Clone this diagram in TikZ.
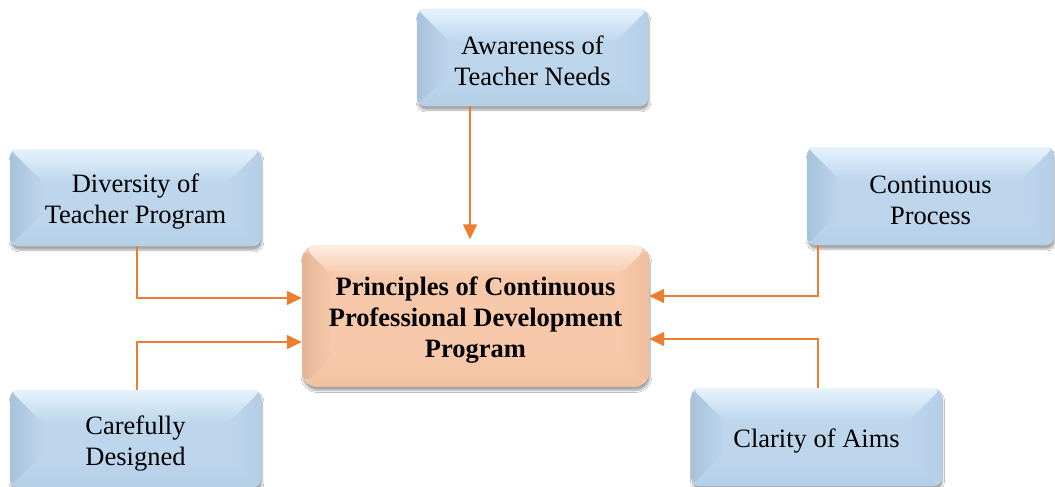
\documentclass[tikz,border=0pt]{standalone}
\usepackage{fontspec}
\setmainfont{Liberation Serif}
\usetikzlibrary{arrows.meta,calc,shadows.blur}
\definecolor{arrc}{HTML}{ED7D31}
\definecolor{bmain}{HTML}{BDD6EC}
\definecolor{bleft}{HTML}{A8C2DB}
\definecolor{bright}{HTML}{B4CEE6}
\definecolor{btop}{HTML}{E6F3FD}
\definecolor{bbot}{HTML}{B5CFE7}
\definecolor{omain}{HTML}{F7C9AA}
\definecolor{oleft}{HTML}{E4B496}
\definecolor{oright}{HTML}{F0BE9E}
\definecolor{otop}{HTML}{FDEDE0}
\definecolor{obot}{HTML}{F1C1A1}
\newcommand\tstrut[1]{\rule{0pt}{#1}}
\newcommand\bevelfaces[6]{%
  \path (path picture bounding box.north west) coordinate (bnw)
        (path picture bounding box.south east) coordinate (bse)
        (path picture bounding box.north east) coordinate (bne)
        (path picture bounding box.south west) coordinate (bsw);
  \shade[left color=#3, right color=#2] (bnw) -- ($(bnw)+(#1pt,-#1pt)$) -- ($(bsw)+(#1pt,#1pt)$) -- (bsw) -- cycle;
  \shade[right color=#4, left color=#2] (bne) -- ($(bne)+(-#1pt,-#1pt)$) -- ($(bse)+(-#1pt,#1pt)$) -- (bse) -- cycle;
  \shade[top color=#5, bottom color=#2] (bnw) -- (bne) -- ($(bne)+(-#1pt,-#1pt)$) -- ($(bnw)+(#1pt,-#1pt)$) -- cycle;
  \shade[bottom color=#6, top color=#2] (bsw) -- (bse) -- ($(bse)+(-#1pt,#1pt)$) -- ($(bsw)+(#1pt,#1pt)$) -- cycle;
}
\tikzset{
  bluebox/.style={rounded corners=8pt, inner sep=0pt, align=center, fill=bmain,
    blur shadow={shadow xshift=1pt, shadow yshift=-4pt, shadow blur steps=6, shadow opacity=35},
    path picture={\bevelfaces{33}{bmain}{bleft}{bright}{btop}{bbot}},
    font=\fontsize{26.5}{31}\selectfont},
  centerbox/.style={rounded corners=14pt, inner sep=0pt, align=center, fill=omain,
    blur shadow={shadow xshift=1pt, shadow yshift=-4pt, shadow blur steps=6, shadow opacity=35},
    path picture={\bevelfaces{30}{omain}{oleft}{oright}{otop}{obot}},
    font=\fontsize{26.5}{31}\selectfont\bfseries},
  arr/.style={draw=arrc, line width=1.5pt, -{Triangle[length=15pt,width=14pt]}}
}
\begin{document}
\begin{tikzpicture}[x=1pt,y=-1pt]
\useasboundingbox[fill=white] (0,0) rectangle (1055,487);
\node[bluebox, minimum width=231pt, minimum height=97pt] (aw) at (532.5,57.5) {\tstrut{26pt}Awareness of\\Teacher Needs};
\node[bluebox, minimum width=251pt, minimum height=97pt] (dv) at (135.5,197.5) {\tstrut{26pt}Diversity of\\Teacher Program};
\node[bluebox, minimum width=247pt, minimum height=98pt] (cp) at (930.5,196) {\tstrut{26pt}Continuous\\Process};
\node[centerbox, minimum width=347pt, minimum height=141pt] (pr) at (475.5,316) {\tstrut{27pt}Principles of Continuous\\Professional Development\\Program};
\node[bluebox, minimum width=251pt, minimum height=97pt] (cd) at (135.5,438.5) {\tstrut{28pt}Carefully\\Designed};
\node[bluebox, minimum width=250pt, minimum height=98pt] (cl) at (816.5,437) {\tstrut{26pt}Clarity of Aims};
\draw[arr, shorten >=6pt] ([xshift=-62.5pt]aw.south) -- ([xshift=-62.5pt]aw.south |- pr.north);
\draw[arr] ([xshift=1.5pt]dv.south) |- ([yshift=18pt]pr.west);
\draw[arr] ([xshift=1.5pt]cd.north) |- ([yshift=-26pt]pr.west);
\draw[arr] ([xshift=-112.5pt]cp.south) |- ([yshift=20pt]pr.east);
\draw[arr] ([xshift=1.5pt]cl.north) |- ([yshift=-23pt]pr.east);
\end{tikzpicture}
\end{document}
